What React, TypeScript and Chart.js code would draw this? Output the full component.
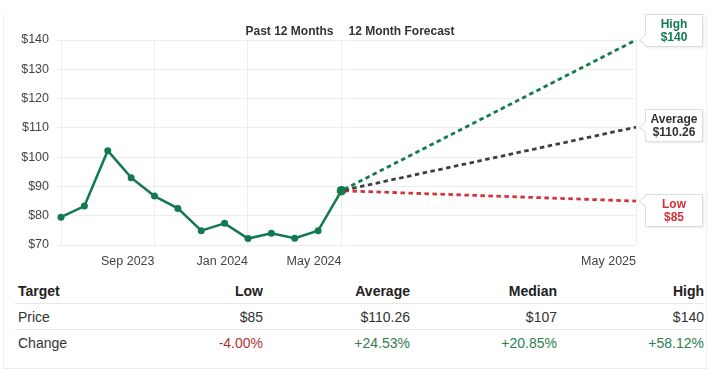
import React, { useEffect, useRef } from 'react';
import { Chart, registerables } from 'chart.js';

Chart.register(...registerables);

// ---- data ----
const pastMonths = ['May 2023', 'Jun 2023', 'Jul 2023', 'Aug 2023', 'Sep 2023', 'Oct 2023', 'Nov 2023', 'Dec 2023', 'Jan 2024', 'Feb 2024', 'Mar 2024', 'Apr 2024', 'May 2024'];
const pastPrices = [79.5, 83.3, 102.2, 93, 86.7, 82.5, 74.9, 77.4, 72.2, 74, 72.3, 74.9, 88.54];
const currentPrice = 88.54;
const targetNames = ['High', 'Average', 'Low'];
const targetPrices = [140, 110.26, 85];
const targetLabels = ['$140', '$110.26', '$85'];
const forecastEnd = 24.6; // position of May 2025 on the month axis
const xTickValues = [0, 4, 8, 12, forecastEnd];
const xTickLabels = ['', 'Sep 2023', 'Jan 2024', 'May 2024', 'May 2025'];
const yMin = 70;
const yMax = 140;
const yStep = 10;

const tableHeader = ['Target', 'Low', 'Average', 'Median', 'High'];
const priceRow = ['Price', '$85', '$110.26', '$107', '$140'];
const changeRow = ['Change', '-4.00%', '+24.53%', '+20.85%', '+58.12%'];

// ---- styles ----
const GREEN = '#137a4e';
const targetColors = ['#147a4d', '#3f3f3f', '#d4313b'];
const targetTextColors = ['#147a4d', '#333333', '#d4313b'];
const boxShift = [-10, -2, 9];
const FONT = '"Liberation Sans", Arial, Helvetica, sans-serif';

const annotPlugin = {
  id: 'annotPlugin',
  afterDraw(chart: any) {
    const { ctx, scales, chartArea } = chart;
    const x = scales.x;
    const y = scales.y;
    ctx.save();
    const xm = x.getPixelForValue(12);
    ctx.font = `bold 12px ${FONT}`;
    ctx.fillStyle = '#333';
    ctx.textBaseline = 'middle';
    ctx.textAlign = 'right';
    ctx.fillText('Past 12 Months', xm - 8, chartArea.top - 8);
    ctx.textAlign = 'left';
    ctx.fillText('12 Month Forecast', xm + 7, chartArea.top - 8);

    targetNames.forEach((name, i) => {
      const px = x.getPixelForValue(forecastEnd);
      const py = y.getPixelForValue(targetPrices[i]);
      const cy = py + boxShift[i];
      const bw = 57;
      const bh = 32;
      const bx = px + 9.5;
      const by = Math.round(cy - bh / 2) + 0.5;
      ctx.save();
      ctx.shadowColor = 'rgba(0,0,0,0.12)';
      ctx.shadowBlur = 3;
      ctx.shadowOffsetX = 1;
      ctx.shadowOffsetY = 1;
      ctx.beginPath();
      ctx.moveTo(bx, by);
      ctx.lineTo(bx + bw, by);
      ctx.lineTo(bx + bw, by + bh);
      ctx.lineTo(bx, by + bh);
      ctx.lineTo(bx, py + 5);
      ctx.lineTo(bx - 6, py);
      ctx.lineTo(bx, py - 5);
      ctx.closePath();
      ctx.fillStyle = '#fff';
      ctx.fill();
      ctx.restore();
      ctx.strokeStyle = '#dcdcdc';
      ctx.lineWidth = 1;
      ctx.stroke();
      ctx.fillStyle = targetTextColors[i];
      ctx.font = `bold 12px ${FONT}`;
      ctx.textAlign = 'center';
      ctx.textBaseline = 'middle';
      ctx.fillText(name, bx + bw / 2, by + bh / 2 - 6);
      ctx.fillText(targetLabels[i], bx + bw / 2, by + bh / 2 + 7);
    });
    ctx.restore();
  },
};

function ChartView() {
  const ref = useRef<HTMLCanvasElement>(null);
  useEffect(() => {
    const canvas = ref.current;
    if (!canvas) return;
    const pastData = pastPrices.map((v, i) => ({ x: i, y: v }));
    const forecastSets = targetPrices.map((t, i) => ({
      label: targetNames[i],
      data: [
        { x: pastMonths.length - 1, y: currentPrice },
        { x: forecastEnd, y: t },
      ],
      borderColor: targetColors[i],
      borderWidth: 2.8,
      borderDash: [4.5, 3.5],
      borderDashOffset: -3,
      pointRadius: 0,
      fill: false,
      tension: 0,
      clip: false,
    }));
    const chart = new Chart(canvas, {
      type: 'line',
      data: {
        datasets: [
          ...forecastSets,
          {
            label: 'Price',
            data: pastData,
            borderColor: GREEN,
            borderWidth: 2.5,
            pointRadius: pastData.map((_, i) => (i === pastData.length - 1 ? 4.8 : 3.5)),
            pointBackgroundColor: GREEN,
            pointBorderWidth: 0,
            tension: 0,
            fill: false,
            clip: false,
          },
        ],
      },
      options: {
        animation: false,
        responsive: false,
        events: [],
        layout: { padding: { top: 40, right: 84, left: 0, bottom: 0 } },
        plugins: { legend: { display: false }, tooltip: { enabled: false } },
        scales: {
          x: {
            type: 'linear',
            min: 0,
            max: forecastEnd,
            afterBuildTicks: (s: any) => {
              s.ticks = xTickValues.map((v) => ({ value: v }));
            },
            afterFit: (s: any) => {
              s.height = 30;
            },
            grid: { color: '#ededed', drawTicks: false },
            border: { display: false },
            ticks: {
              align: 'end',
              padding: 9,
              color: '#444',
              font: { family: FONT, size: 12.5 },
              maxRotation: 0,
              autoSkip: false,
              callback: (v: any) => {
                const idx = xTickValues.indexOf(Number(v));
                return idx >= 0 ? xTickLabels[idx] : '';
              },
            },
          },
          y: {
            min: yMin,
            max: yMax,
            afterFit: (s: any) => {
              s.width = 61;
            },
            grid: { color: '#ededed', tickLength: 4 },
            border: { display: false },
            ticks: {
              stepSize: yStep,
              padding: 8,
              color: '#444',
              font: { family: FONT, size: 12.5 },
              callback: (v: any) => '$' + v,
            },
          },
        },
      },
      plugins: [annotPlugin],
    } as any);
    return () => chart.destroy();
  }, []);
  return <canvas ref={ref} width={720} height={275} style={{ position: 'absolute', left: 0, top: 0, width: 720, height: 275 }} />;
}

const colWidths = [101, 147, 147, 147, 147];

function Row({ cells, top, height, bold, colors, border }: any) {
  return (
    <div
      style={{
        position: 'absolute',
        left: 15,
        top,
        width: 689,
        height,
        display: 'flex',
        borderBottom: border ? '1px solid #e8e8e8' : 'none',
        boxSizing: 'border-box',
      }}
    >
      {cells.map((c: string, i: number) => (
        <div
          key={i}
          style={{
            width: colWidths[i],
            textAlign: i === 0 ? 'left' : 'right',
            paddingLeft: i === 0 ? 3 : 0,
            boxSizing: 'border-box',
            lineHeight: height + 'px',
            fontSize: 14,
            fontWeight: bold ? 'bold' : 'normal',
            color: colors ? colors[i] : bold ? '#222' : '#333',
            whiteSpace: 'nowrap',
          }}
        >
          {c}
        </div>
      ))}
    </div>
  );
}

export default function App() {
  return (
    <div
      style={{
        position: 'absolute',
        left: 0,
        top: 0,
        width: 720,
        height: 371,
        background: '#fff',
        fontFamily: FONT,
        overflow: 'hidden',
      }}
    >
      <div
        style={{
          position: 'absolute',
          left: 3,
          top: 14,
          width: 704,
          height: 355,
          borderLeft: '1px solid #f0f0f0',
          borderRight: '1px solid #f0f0f0',
          borderBottom: '1px solid #ececec',
          boxSizing: 'border-box',
        }}
      />
      <ChartView />
      <Row cells={tableHeader} top={278} height={26} bold border />
      <Row cells={priceRow} top={304} height={26} border />
      <Row
        cells={changeRow}
        top={330}
        height={26}
        colors={['#333', '#b03333', '#2e7d50', '#2e7d50', '#2e7d50']}
      />
    </div>
  );
}
